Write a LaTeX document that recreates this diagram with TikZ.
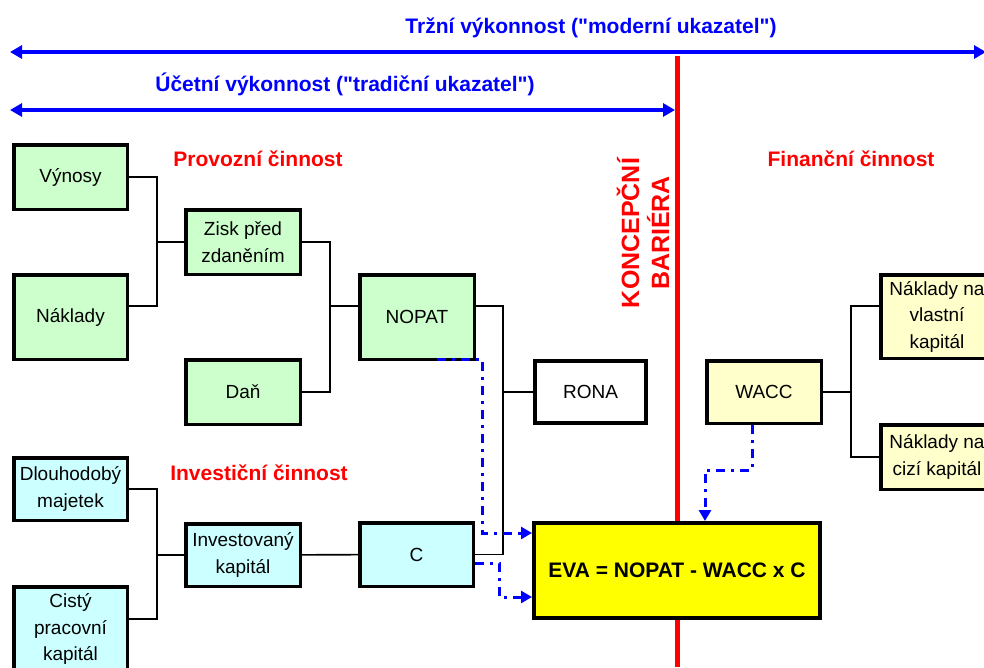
\documentclass[tikz,border=0pt]{standalone}
\usepackage{fontspec}
\setmainfont{Liberation Sans}
\usepackage{tikz}
\usetikzlibrary{arrows.meta, positioning, calc}
\definecolor{BoxGreen}{RGB}{204, 255, 204}
\definecolor{BoxCyan}{RGB}{204, 255, 255}
\definecolor{BoxYellow}{RGB}{255, 255, 204}
\definecolor{EvaYellow}{RGB}{255, 255, 0}
\definecolor{PureBlue}{RGB}{0, 0, 255}
\definecolor{PureRed}{RGB}{255, 0, 0}

\begin{document}
\begin{tikzpicture}[x=1pt, y=-1pt,
        valbox/.style={draw, line width=3.5pt, align=center, inner sep=0pt, font=\fontsize{19}{26.5}\selectfont},
        headline/.style={font=\fontsize{21}{25}\selectfont\bfseries},
        link/.style={line width=1.6pt},
        flowarrow/.style={PureBlue, line width=3pt, dash pattern=on 9pt off 6pt on 3pt off 6pt, -{Triangle[length=11pt, width=12pt]}},
        spanarrow/.style={PureBlue, line width=4pt, {Triangle[length=12pt, width=13pt]}-{Triangle[length=12pt, width=13pt]}}]
        \useasboundingbox (0,0) rectangle (984,667);
        \clip (0,0) rectangle (984,667);

        \node[headline, color=PureBlue] (trzni) at (591,28) {Tržní výkonnost (\textquotedbl moderní ukazatel\textquotedbl)};
        \coordinate (trzniL) at (10,52);
        \coordinate (trzniR) at (986,52);
        \draw[spanarrow] (trzniL) -- (trzniR);
        \node[headline, color=PureBlue] (ucetni) at (345,84) {Účetní výkonnost (\textquotedbl tradiční ukazatel\textquotedbl)};
        \coordinate (ucetniL) at (10,110);
        \coordinate (ucetniR) at (675,110);
        \draw[spanarrow] (ucetniL) -- (ucetniR);

        \coordinate (barTop) at (677,56);
        \coordinate (barBot) at (677,667);
        \draw[PureRed, line width=5pt] (barTop) -- (barBot);
        \node[font=\fontsize{25}{30}\selectfont\bfseries, color=PureRed, rotate=90, align=center] (bariera) at (643,233) {KONCEPČNÍ\\BARIÉRA};

        \node[headline, color=PureRed] (provozni) at (258,159) {Provozní činnost};
        \node[headline, color=PureRed] (investicni) at (259,473) {Investiční činnost};
        \node[headline, color=PureRed] (financni) at (851,159) {Finanční činnost};

        \node[valbox, fill=BoxGreen, minimum width=113.5, minimum height=64.5] (vynosy) at (70.5,177) {Výnosy};
        \node[valbox, fill=BoxGreen, minimum width=113.5, minimum height=84.5] (naklady) at (70.5,317) {Náklady};
        \node[valbox, fill=BoxGreen, minimum width=114.5, minimum height=64.5] (zisk) at (243,242) {Zisk před\\zdaněním};
        \node[valbox, fill=BoxGreen, minimum width=114.5, minimum height=64.5] (dan) at (243,392) {Daň};
        \node[valbox, fill=BoxGreen, minimum width=114.5, minimum height=84.5] (nopat) at (417,317) {NOPAT};
        \node[valbox, fill=white, line width=4pt, minimum width=111, minimum height=62] (rona) at (590.5,392) {RONA};

        \node[valbox, fill=BoxCyan, minimum width=113.5, minimum height=62.5] (dlouhodoby) at (70.5,489) {Dlouhodobý\\majetek};
        \node[valbox, fill=BoxCyan, minimum width=113.5, minimum height=84.5] (cisty) at (70.5,629) {Cistý\\pracovní\\kapitál};
        \node[valbox, fill=BoxCyan, minimum width=114.5, minimum height=62.5] (investovany) at (243,555) {Investovaný\\kapitál};
        \node[valbox, fill=BoxCyan, minimum width=113.5, minimum height=63.5] (kapitalC) at (416.5,554.5) {C};

        \node[valbox, fill=BoxYellow, minimum width=114.5, minimum height=62.5] (wacc) at (764,392) {WACC};
        \node[valbox, fill=BoxYellow, minimum width=112.5, minimum height=83.5] (vlastni) at (937,316.5) {Náklady na\\vlastní\\kapitál};
        \node[valbox, fill=BoxYellow, minimum width=112.5, minimum height=64.5] (cizi) at (937,457) {Náklady na\\cizí kapitál};

        \coordinate (forkZisk) at (157,242);
        \coordinate (forkNopat) at (330,306);
        \coordinate (forkRona) at (503,392);
        \coordinate (forkInv) at (157,555);
        \coordinate (forkWacc) at (851,392);
        \draw[link] (vynosy.east) -| (forkZisk) |- ([yshift=11pt]naklady.east);
        \draw[link] (forkZisk) -- (zisk.west);
        \draw[link] (zisk.east) -| (forkNopat) |- (dan.east);
        \draw[link] (forkNopat) -- ([yshift=11pt]nopat.west);
        \draw[link] ([yshift=11pt]nopat.east) -| (forkRona) |- (kapitalC.east);
        \draw[link] (forkRona) -- (rona.west);
        \draw[link] (dlouhodoby.east) -| (forkInv) |- ([yshift=10pt]cisty.east);
        \draw[link] (forkInv) -- (investovany.west);
        \draw[link] (investovany) -- (kapitalC);
        \draw[link] ([yshift=10.5pt]vlastni.west) -| (forkWacc) |- (cizi.west);
        \draw[link] (wacc.east) -- (forkWacc);

        \node[valbox, fill=EvaYellow, line width=4pt, minimum width=286, minimum height=95, font=\fontsize{21}{25}\selectfont\bfseries] (eva) at (677,570.5) {EVA = NOPAT - WACC x C};

        \draw[flowarrow] ([xshift=20pt, yshift=2pt]nopat.south) -| ([xshift=-50pt, yshift=37.5pt]eva.west) -- ([yshift=37.5pt]eva.west);
        \draw[flowarrow] ([yshift=-8.5pt]kapitalC.east) -| ([xshift=-33pt, yshift=-26.5pt]eva.west) -- ([yshift=-26.5pt]eva.west);
        \draw[flowarrow] ([xshift=-12pt]wacc.south) -- ++(0,45) -| ([xshift=28pt]eva.north);
\end{tikzpicture}
\end{document}
